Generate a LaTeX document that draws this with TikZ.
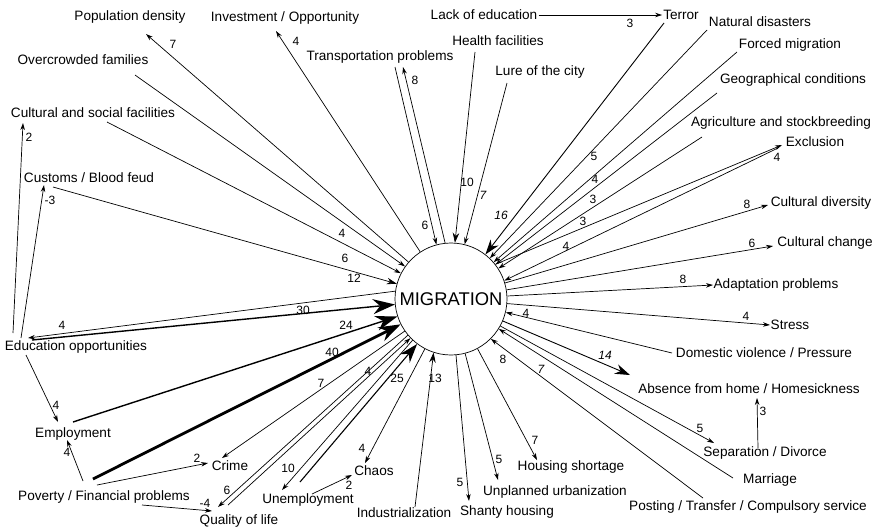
\documentclass[tikz,border=0pt]{standalone}
\usepackage{fontspec}
\setmainfont{Liberation Sans}
\usetikzlibrary{arrows.meta,calc}
\begin{document}
\begin{tikzpicture}[x=1pt,y=-1pt,
  txt/.style={inner sep=1pt,font=\fontsize{13.6}{15}\selectfont},
  lbl/.style={inner sep=0pt,font=\fontsize{12}{13}\selectfont},
  lbli/.style={inner sep=0pt,font=\fontsize{12}{13}\selectfont\itshape},
  link/.style={line width=0.7pt},
  ar/.style={link,-{Stealth[length=7pt,width=4.5pt]}},
  arm/.style={link,-{Stealth[length=10pt,width=6.5pt]}},
  arb/.style={line width=0.9pt,-{Stealth[length=15pt,width=10pt]}},
  arh/.style={line width=1.4pt,-{Stealth[length=22pt,width=15pt]}},
]
\useasboundingbox (0,0) rectangle (878,531);

% central node
\node[draw,circle,line width=0.7pt,minimum size=112pt,inner sep=0pt,
      font=\fontsize{18.4}{20}\selectfont] (mig) at (451,299) {MIGRATION};

% surrounding factors
\node[txt] (popd) at (130,17) {Population density};
\node[txt] (invest) at (285,18) {Investment / Opportunity};
\node[txt] (lackedu) at (484,15) {Lack of education};
\node[txt] (terror) at (681,15) {Terror};
\node[txt] (natdis) at (760,22) {Natural disasters};
\node[txt] (forced) at (790,45) {Forced migration};
\node[txt] (geo) at (793,80) {Geographical conditions};
\node[txt] (agri) at (781,123) {Agriculture and stockbreeding};
\node[txt] (excl) at (815,142) {Exclusion};
\node[txt] (transp) at (380,57) {Transportation problems};
\node[txt] (health) at (498,41) {Health facilities};
\node[txt] (lure) at (540,72) {Lure of the city};
\node[txt] (overcrowd) at (83,60) {Overcrowded families};
\node[txt] (culsoc) at (93,113) {Cultural and social facilities};
\node[txt] (customs) at (89,178) {Customs / Blood feud};
\node[txt] (eduopp) at (76,347) {Education opportunities};
\node[txt] (employ) at (73,434) {Employment};
\node[txt] (poverty) at (104,497) {Poverty / Financial problems};
\node[txt] (crime) at (230,466) {Crime};
\node[txt] (qol) at (239,521) {Quality of life};
\node[txt] (unemp) at (308,500) {Unemployment};
\node[txt] (chaos) at (374,471) {Chaos};
\node[txt] (indust) at (404,513) {Industrialization};
\node[txt] (shanty) at (507,512) {Shanty housing};
\node[txt] (unplanned) at (555,492) {Unplanned urbanization};
\node[txt] (housing) at (571,467) {Housing shortage};
\node[txt] (posting) at (748,507) {Posting / Transfer / Compulsory service};
\node[txt] (marriage) at (770,480) {Marriage};
\node[txt] (separation) at (765,453) {Separation / Divorce};
\node[txt] (absence) at (749,389) {Absence from home / Homesickness};
\node[txt] (domestic) at (764,353) {Domestic violence / Pressure};
\node[txt] (stress) at (790,325) {Stress};
\node[txt] (adapt) at (776,285) {Adaptation problems};
\node[txt] (culchange) at (825,243) {Cultural change};
\node[txt] (culdiv) at (821,203) {Cultural diversity};

% connectors: top
\draw[ar] (mig) -- ($(popd)+(16,17)$);
\draw[ar] (mig) -- ($(invest)+(-9,13)$);
\draw[ar] ($(transp)+(15,10)$) -- (mig.105);
\draw[ar] (mig.96) -- ($(transp)+(23,10)$);
\draw[arm] ($(health)+(-23,11)$) -- (mig.86);
\draw[ar] ($(lure)+(-33,11)$) -- (mig.76);
\draw[arb] ($(terror)+(-17,8)$) -- (mig);
\draw[ar] (lackedu.east) -- (terror.west);

% connectors: right
\draw[ar] ($(natdis)+(-53,8)$) -- (mig);
\draw[ar] ($(forced)+(-53,7)$) -- (mig);
\draw[ar] ($(geo)+(-76,13)$) -- (mig);
\draw[ar] ($(agri)+(-79,14)$) -- (mig);
\draw[ar] (mig.38) -- ($(excl)+(-33,3)$);
\draw[ar] ($(excl)+(-37,6)$) -- (mig.19);
\draw[ar] (mig) -- ($(culdiv)+(-53,2)$);
\draw[ar] (mig) -- ($(culchange)+(-52,3)$);
\draw[ar] (mig) -- ($(adapt)+(-63,0)$);
\draw[ar] (mig) -- ($(stress)+(-20,0)$);
\draw[ar] ($(domestic)+(-92,0)$) -- (mig);
\draw[arb] (mig) -- ($(absence)+(-119,-14)$);
\draw[ar] (mig) -- ($(separation)+(-51,-10)$);
\draw[ar] ($(marriage)+(-37,-2)$) -- (mig.-32);
\draw[ar] ($(posting)+(-45,-9)$) -- (mig.-45);
\draw[ar] ($(separation)+(-7,-5)$) -- ($(absence)+(8,9)$);

% connectors: bottom
\draw[ar] (mig) -- ($(housing)+(-34,-7)$);
\draw[ar] (mig) -- ($(unplanned)+(-57,-12)$);
\draw[ar] (mig) -- ($(shanty)+(-38,-11)$);
\draw[arm] ($(indust)+(11,-6)$) -- (mig.-108);
\draw[ar] (mig) -- ($(chaos)+(-9,-8)$);
\draw[ar] ($(unemp)+(4,-6)$) -- ($(chaos)+(-22,4)$);
\draw[ar] (mig.-133) -- ($(unemp)+(-26,-10)$);
\draw[line width=1.1pt,-{Stealth[length=19pt,width=13pt]}] ($(unemp)+(-8,-18)$) -- (mig.-127);
\draw[ar] (mig.-140) -- ($(qol)+(-21,-14)$);
\draw[ar] ($(qol)+(-11,-16)$) -- (mig.-136);
\draw[ar] (mig) -- ($(crime)+(-8,-8)$);

% connectors: left
\draw[ar] ($(poverty)+(-7,-12)$) -- ($(crime)+(-22,-3)$);
\draw[ar] ($(poverty)+(38,8)$) -- ($(qol)+(-27,-10)$);
\draw[arh,line width=2.8pt] ($(poverty)+(-11,-18)$) -- (mig);
\draw[arh] ($(employ)+(0,-12)$) -- (mig);
\draw[arh] ($(eduopp)+(-44,-7)$) -- (mig);
\draw[ar] (mig.172) -- ($(eduopp)+(-48,-9)$);
\draw[ar] ($(eduopp)+(-50,8)$) -- ($(employ)+(-15,-12)$);
\draw[ar] ($(poverty)+(-21,-16)$) -- ($(employ)+(-6,6)$);
\draw[ar] ($(eduopp)+(-63,-14)$) -- ($(culsoc)+(-70,10)$);
\draw[ar] ($(eduopp)+(-55,-9)$) -- ($(customs)+(-45,7)$);
\draw[arm] ($(customs)+(-36,9)$) -- (mig);
\draw[ar] ($(culsoc)+(14,9)$) -- (mig);
\draw[ar] ($(overcrowd)+(52,15)$) -- (mig);

% weights
\node[lbl] (w1) at (173,44) {7};
\node[lbl] (w2) at (296,41) {4};
\node[lbl] (w3) at (415,80) {8};
\node[lbl] (w4) at (425,225) {6};
\node[lbl] (w5) at (467,182) {10};
\node[lbli] (w6) at (483,195) {7};
\node[lbli] (w7) at (501,215) {16};
\node[lbl] (w8) at (630,23) {3};
\node[lbl] (w9) at (594,156) {5};
\node[lbl] (w10) at (595,179) {4};
\node[lbl] (w11) at (593,199) {3};
\node[lbl] (w12) at (583,221) {3};
\node[lbl] (w13) at (566,246) {4};
\node[lbl] (w14) at (777,157) {4};
\node[lbl] (w15) at (747,204) {8};
\node[lbl] (w16) at (752,243) {6};
\node[lbl] (w17) at (683,279) {8};
\node[lbl] (w18) at (746,316) {4};
\node[lbl] (w19) at (526,313) {4};
\node[lbli] (w20) at (605,355) {14};
\node[lbl] (w21) at (700,428) {5};
\node[lbl] (w22) at (763,411) {3};
\node[lbl] (w23) at (503,359) {8};
\node[lbli] (w24) at (541,369) {7};
\node[lbl] (w25) at (535,440) {7};
\node[lbl] (w26) at (499,459) {5};
\node[lbl] (w27) at (460,482) {5};
\node[lbl] (w28) at (435,378) {13};
\node[lbl] (w29) at (397,378) {25};
\node[lbl] (w30) at (362,448) {4};
\node[lbl] (w31) at (349,485) {2};
\node[lbl] (w32) at (288,468) {10};
\node[lbl] (w33) at (227,490) {6};
\node[lbl] (w34) at (368,371) {4};
\node[lbl] (w35) at (321,383) {7};
\node[lbl] (w36) at (197,458) {2};
\node[lbl] (w37) at (205,503) {-4};
\node[lbl] (w38) at (67,452) {4};
\node[lbl] (w39) at (56,405) {4};
\node[lbl] (w40) at (332,352) {40};
\node[lbl] (w41) at (346,325) {24};
\node[lbl] (w42) at (303,310) {30};
\node[lbl] (w43) at (62,325) {4};
\node[lbl] (w44) at (354,278) {12};
\node[lbl] (w45) at (345,258) {6};
\node[lbl] (w46) at (342,233) {4};
\node[lbl] (w47) at (29,137) {2};
\node[lbl] (w48) at (50,200) {-3};
\end{tikzpicture}
\end{document}
